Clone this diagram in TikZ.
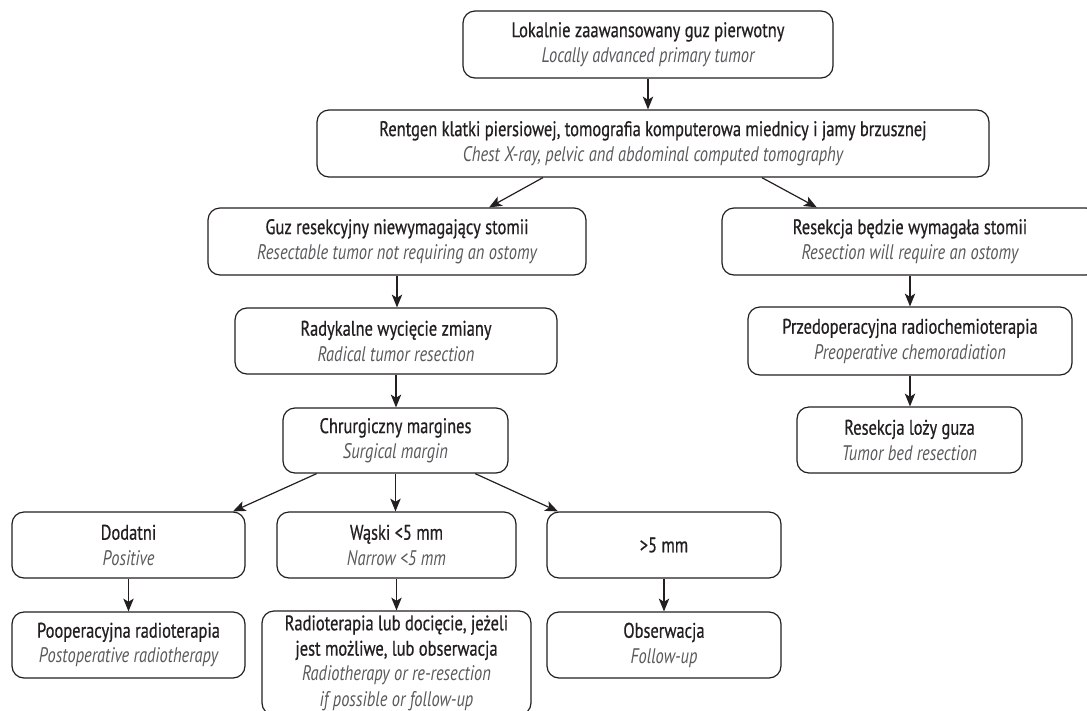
\documentclass[tikz,border=0pt]{standalone}
\usepackage{fontspec}
\setmainfont{PT Sans}[FakeStretch=0.78, UprightFeatures={FakeBold=0.6}]
\usetikzlibrary{arrows.meta}
\definecolor{cink}{HTML}{231F20}
\definecolor{cgrey}{HTML}{58595B}
\newcommand{\entext}[1]{{\color{cgrey}\itshape #1}}
\tikzset{
  every picture/.style={line width=0.85pt},
  stage/.style={draw=cink, rounded corners=0.3cm, align=center, inner sep=0pt, text=cink, font=\fontsize{15}{18}\selectfont},
  dims/.style 2 args={minimum width=#1*0.025cm, minimum height=#2*0.025cm},
  arrow/.style={-{Stealth[length=0.32cm, width=0.26cm, inset=0.08cm]}, draw=cink, line width=0.85pt},
}

\begin{document}
\begin{tikzpicture}[x=0.025cm, y=-0.025cm]
  \useasboundingbox (0,0) rectangle (1087,711);
  \clip (0,0) rectangle (1087,711);
  % top of the chart
  \node[stage, dims={370}{67}] (primary) at (648,44.5) {Lokalnie zaawansowany guz pierwotny\\\entext{Locally advanced primary tumor}};
  \node[stage, dims={672}{67}] (imaging) at (653,143.5) {Rentgen klatki piersiowej, tomografia komputerowa miednicy i jamy brzusznej\\\entext{Chest X-ray, pelvic and abdominal computed tomography}};
  % two branches
  \node[stage, dims={378}{67}] (resectable) at (397,241.5) {Guz resekcyjny niewymagający stomii\\\entext{Resectable tumor not requiring an ostomy}};
  \node[stage, dims={376}{67}] (ostomy) at (910,241.5) {Resekcja będzie wymagała stomii\\\entext{Resection will require an ostomy}};
  \node[stage, dims={322}{66}] (radical) at (396,341) {Radykalne wycięcie zmiany\\\entext{Radical tumor resection}};
  \node[stage, dims={324}{68}] (preop) at (910,341) {Przedoperacyjna radiochemioterapia\\\entext{Preoperative chemoradiation}};
  \node[stage, dims={225}{65}] (margin) at (395.5,440.5) {Chrurgiczny margines\\\entext{Surgical margin}};
  \node[stage, dims={225}{66}] (bed) at (909.5,440) {Resekcja loży guza\\\entext{Tumor bed resection}};
  % margin outcomes
  \node[stage, dims={233}{66}] (positive) at (128.5,545) {Dodatni\\\entext{Positive}};
  \node[stage, dims={239}{66}] (narrow) at (396.5,545) {Wąski <5 mm\\\entext{Narrow <5 mm}};
  \node[stage, dims={234}{66}] (wide) at (664,545) {>5 mm};
  \node[stage, dims={233}{66}] (postop) at (128.5,645) {Pooperacyjna radioterapia\\\entext{Postoperative radiotherapy}};
  \node[stage, dims={269}{104}] (radio) at (396.5,663) {Radioterapia lub docięcie, jeżeli\\jest możliwe, lub obserwacja\\\entext{Radiotherapy or re-resection}\\\entext{if possible or follow-up}};
  \node[stage, dims={234}{66}] (follow) at (664,645) {Obserwacja\\\entext{Follow-up}};
  % connectors
  \draw[arrow] (primary.south) -- (primary.south |- imaging.north);
  \draw[arrow] ([xshift=-2.75cm]imaging.south) -- ([xshift=2.3cm]resectable.north);
  \draw[arrow] ([xshift=2.72cm]imaging.south) -- ([xshift=-2.33cm]ostomy.north);
  \draw[arrow] ([xshift=-1.97cm]margin.south) -- ([xshift=2.61cm]positive.north);
  \draw[arrow] ([xshift=1.99cm]margin.south) -- ([xshift=-2.65cm]wide.north);
  \foreach \a/\b in {resectable/radical, radical/margin, ostomy/preop, preop/bed, margin/narrow, positive/postop, narrow/radio, wide/follow}
    \draw[arrow] (\a.south) -- (\a.south |- \b.north);
\end{tikzpicture}
\end{document}
